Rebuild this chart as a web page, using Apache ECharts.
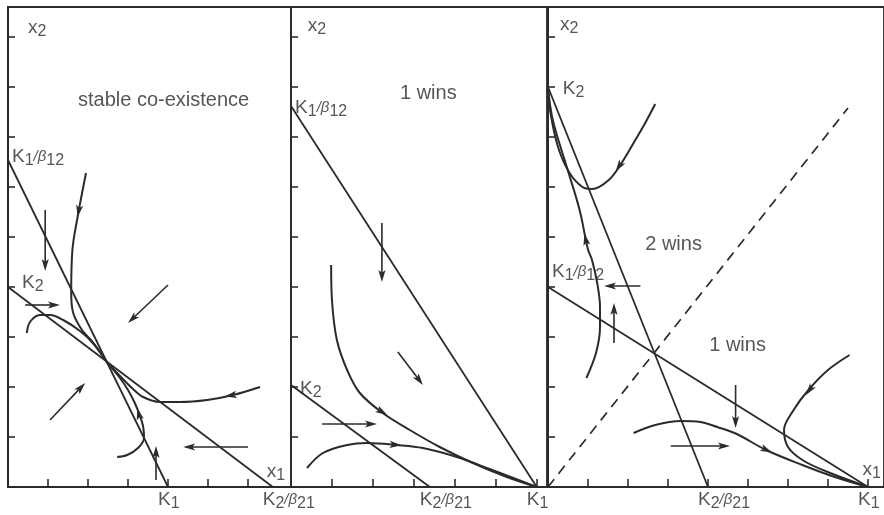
<!DOCTYPE html>
<html>
<head>
<meta charset="utf-8">
<script src="https://cdn.jsdelivr.net/npm/echarts@6/dist/echarts.min.js"></script>
<style>
  html, body { margin: 0; padding: 0; background: #fff; }
  #chart { width: 884px; height: 515px; }
</style>
</head>
<body>
<div id="chart"></div>
<script>
// Phase planes of the Lotka–Volterra competition model (x1 across, x2 up), three cases.
const INK = '#2b2b2b';
const FONT = '"Liberation Sans", Arial, Helvetica, sans-serif';

// ---- Panel 1: stable co-existence ----
const p1NullSpecies1 = [[0, 6.54], [4, 0]];       // K1/β12 down to K1
const p1NullSpecies2 = [[0, 4], [6.62, 0]];       // K2 down to K2/β21
const p1TrajFromTop = [[1.95, 6.28], [1.74, 5.4], [1.61, 4.74], [1.58, 3.88], [1.63, 3.48], [1.85, 3.14], [2.12, 2.9], [2.46, 2.51]];
const p1TrajFromLeft = [[0.47, 3.08], [0.55, 3.3], [0.8, 3.44], [1.05, 3.44], [1.38, 3.34], [1.8, 3.12], [2.12, 2.88], [2.46, 2.51]];
const p1TrajFromRight = [[6.3, 2.0], [5.63, 1.84], [4.98, 1.74], [4.3, 1.7], [3.8, 1.7], [3.38, 1.8], [3.1, 1.98], [2.8, 2.22], [2.46, 2.51]];
const p1TrajFromBelow = [[2.73, 0.6], [2.98, 0.64], [3.25, 0.78], [3.4, 0.98], [3.38, 1.2], [3.3, 1.42], [3.17, 1.68], [3.0, 1.94], [2.78, 2.2], [2.46, 2.51]];
// free direction arrows: [fromX, fromY, toX, toY]
const p1Arrows = [[0.93, 5.54, 0.93, 4.32], [0.43, 3.64, 1.3, 3.64], [4.0, 4.04, 3.0, 3.28], [1.05, 1.34, 1.93, 2.08], [3.7, 0.14, 3.7, 0.82], [6.0, 0.8, 4.38, 0.8]];
// arrowheads sitting on the trajectories: [behindX, behindY, tipX, tipY]
const p1Heads = [[1.79, 5.62, 1.74, 5.4], [5.7, 1.85, 5.42, 1.81], [3.29, 1.4, 3.23, 1.58]];
const p1Notes = [[0.5, 9.18, 'x_2'], [0.1, 6.6, 'K_1/β_12'], [0.35, 4.08, 'K_2'], [1.75, 7.74, 'stable co-existence'], [6.47, 0.3, 'x_1']];
const p1TickLabels = [[4, 'K_1'], [6.62, 'K_2/β_21']];

// ---- Panel 2: species 1 wins ----
const p2NullSpecies1 = [[0, 7.62], [6, 0]];
const p2NullSpecies2 = [[0, 2.04], [3.39, 0]];
const p2TrajUpper = [[0.98, 4.44], [1.0, 3.74], [1.12, 2.94], [1.37, 2.34], [1.68, 1.88], [2.24, 1.48], [2.9, 1.14], [3.63, 0.8], [4.44, 0.48], [5.27, 0.2], [6, 0]];
const p2TrajLower = [[0.39, 0.38], [0.78, 0.68], [1.37, 0.84], [1.85, 0.88], [2.59, 0.84], [3.22, 0.78], [4.05, 0.6], [4.85, 0.36], [6, 0]];
const p2Arrows = [[0.76, 1.26, 2.1, 1.26], [2.61, 2.7, 3.22, 2.04], [2.22, 5.28, 2.22, 4.1]];
const p2Heads = [[2.1, 1.56, 2.35, 1.44], [2.45, 0.85, 2.7, 0.835]];
const p2Notes = [[0.41, 9.22, 'x_2'], [0.1, 7.58, 'K_1/β_12'], [0.22, 1.96, 'K_2'], [2.66, 7.88, '1 wins']];
const p2TickLabels = [[3.39, 'K_2/β_21'], [6, 'K_1']];

// ---- Panel 3: unstable equilibrium, 1 wins or 2 wins ----
const p3NullSpecies1 = [[0, 4], [8, 0]];
const p3NullSpecies2 = [[0, 8], [4, 0]];
const p3Separatrix = [[0, 0], [7.5, 7.58]];
const p3TrajUpperU = [[2.68, 7.66], [2.43, 7.28], [2.14, 6.88], [1.84, 6.48], [1.52, 6.14], [1.1, 5.96], [0.86, 6.0], [0.54, 6.28], [0.25, 6.8], [0.05, 7.54], [0, 8]];
const p3TrajRising = [[0.96, 2.18], [1.2, 2.68], [1.3, 3.2], [1.3, 3.6], [1.23, 4.08], [1.1, 4.54], [1.0, 4.75], [0.79, 5.54], [0.47, 6.4], [0.12, 7.34], [0, 8]];
const p3TrajRightHook = [[7.54, 2.64], [7.0, 2.34], [6.51, 1.94], [6.14, 1.54], [5.9, 1.14], [6.0, 0.8], [6.36, 0.54], [6.93, 0.32], [8, 0]];
const p3TrajLow = [[2.14, 1.08], [2.68, 1.24], [3.32, 1.32], [3.81, 1.3], [4.23, 1.2], [4.72, 1.06], [5.45, 0.74], [6.36, 0.44], [7.17, 0.2], [8, 0]];
const p3Arrows = [[1.65, 2.88, 1.65, 3.68], [2.31, 4.02, 1.4, 4.02], [4.69, 2.04, 4.69, 1.18], [3.07, 0.82, 4.55, 0.82]];
const p3Heads = [[1.9, 6.56, 1.69, 6.31], [0.97, 4.85, 0.91, 5.07], [6.7, 2.12, 6.45, 1.84], [5.35, 0.78, 5.6, 0.69]];
const p3Notes = [[0.3, 9.24, 'x_2'], [0.37, 7.96, 'K_2'], [0.1, 4.3, 'K_1/β_12'], [2.43, 4.86, '2 wins'], [4.03, 2.84, '1 wins'], [7.86, 0.34, 'x_1']];
const p3TickLabels = [[4, 'K_2/β_21'], [8, 'K_1']];

const TICKS_Y = [1, 2, 3, 4, 5, 6, 7, 8, 9];

// Subscripts and the "/β" part are set as rich-text tokens.
function toRich(s) {
  return s.replace(/\/β/g, '{b|/β}').replace(/_(\d+)/g, '{s|$1}');
}
const RICH = {
  s: { fontSize: 16, fontFamily: FONT, color: INK, padding: [8, 0, 0, 0] },
  b: { fontSize: 15, fontFamily: FONT, color: INK, fontStyle: 'italic' }
};
// symbols with subscripts are set a little smaller than the region captions
const noteSize = t => (t.indexOf('_') >= 0 ? 19 : 20);

const panels = [
  { left: 8, width: 283, xMax: 7.075, xTicks: [1, 2, 3, 4, 5, 6],
    nulls: [p1NullSpecies1, p1NullSpecies2], dashed: null,
    trajs: [p1TrajFromTop, p1TrajFromLeft, p1TrajFromRight, p1TrajFromBelow],
    arrows: p1Arrows, heads: p1Heads, notes: p1Notes, tickLabels: p1TickLabels },
  { left: 291, width: 256, xMax: 6.25, xTicks: [1, 2, 3, 4, 5, 6],
    nulls: [p2NullSpecies1, p2NullSpecies2], dashed: null,
    trajs: [p2TrajUpper, p2TrajLower],
    arrows: p2Arrows, heads: p2Heads, notes: p2Notes, tickLabels: p2TickLabels },
  { left: 548, width: 342, xMax: 8.4, xTicks: [1, 2, 3, 4, 5, 6, 7, 8],
    nulls: [p3NullSpecies1, p3NullSpecies2], dashed: p3Separatrix,
    trajs: [p3TrajUpperU, p3TrajRising, p3TrajRightHook, p3TrajLow],
    arrows: p3Arrows, heads: p3Heads, notes: p3Notes, tickLabels: p3TickLabels }
];

function arrowRenderer(headOnly) {
  return function (params, api) {
    const a = api.coord([api.value(0), api.value(1)]);
    const b = api.coord([api.value(2), api.value(3)]);
    const dx = b[0] - a[0], dy = b[1] - a[1];
    const L = Math.hypot(dx, dy) || 1;
    const ux = dx / L, uy = dy / L, nx = -uy, ny = ux;
    const len = 12, half = 3.6, notch = 2.8;
    const bx = b[0] - ux * len, by = b[1] - uy * len;
    const children = [];
    if (!headOnly) {
      children.push({ type: 'line', shape: { x1: a[0], y1: a[1], x2: b[0] - ux * 4, y2: b[1] - uy * 4 },
        style: { stroke: INK, lineWidth: 1.6 } });
    }
    children.push({ type: 'polygon', shape: { points: [
      [b[0], b[1]],
      [bx + nx * half, by + ny * half],
      [b[0] - ux * (len - notch), b[1] - uy * (len - notch)],
      [bx - nx * half, by - ny * half]
    ] }, style: { fill: INK } });
    return { type: 'group', children };
  };
}

const grid = [], xAxis = [], yAxis = [], series = [];
panels.forEach((p, i) => {
  grid.push({ left: p.left, top: 7, width: p.width, height: 480, show: true,
    borderColor: INK, borderWidth: 1.8, backgroundColor: 'transparent' });
  xAxis.push({ gridIndex: i, type: 'value', min: 0, max: p.xMax, interval: 1,
    axisLine: { show: true, lineStyle: { color: INK, width: 2 } },
    axisTick: { show: true, inside: true, length: 8, customValues: p.xTicks, lineStyle: { color: INK, width: 1.6 } },
    axisLabel: { show: false }, splitLine: { show: false } });
  yAxis.push({ gridIndex: i, type: 'value', min: 0, max: 9.6, interval: 1,
    axisLine: { show: true, lineStyle: { color: INK, width: 2 } },
    axisTick: { show: true, inside: true, length: 7, customValues: TICKS_Y, lineStyle: { color: INK, width: 1.6 } },
    axisLabel: { show: false }, splitLine: { show: false } });

  const base = { xAxisIndex: i, yAxisIndex: i, silent: true };
  p.nulls.forEach(d => series.push(Object.assign({ type: 'line', data: d, showSymbol: false,
    lineStyle: { color: INK, width: 1.8 } }, base)));
  if (p.dashed) {
    series.push(Object.assign({ type: 'line', data: p.dashed, showSymbol: false,
      lineStyle: { color: INK, width: 1.7, type: [10, 7] } }, base));
  }
  p.trajs.forEach(d => series.push(Object.assign({ type: 'line', data: d, showSymbol: false, smooth: 0.35,
    lineStyle: { color: INK, width: 2 } }, base)));
  series.push(Object.assign({ type: 'custom', data: p.arrows, encode: { x: [0, 2], y: [1, 3] },
    renderItem: arrowRenderer(false) }, base));
  series.push(Object.assign({ type: 'custom', data: p.heads, encode: { x: [0, 2], y: [1, 3] },
    renderItem: arrowRenderer(true) }, base));
  // text inside the plane, anchored at its left-middle
  series.push(Object.assign({ type: 'scatter', symbolSize: 0,
    data: p.notes.map(n => ({ value: [n[0], n[1]], name: n[2], label: { fontSize: noteSize(n[2]) } })),
    label: { show: true, position: 'inside', align: 'left', verticalAlign: 'middle',
      formatter: q => toRich(q.name), color: INK, fontFamily: FONT, rich: RICH } }, base));
  // labels under the x axis
  series.push(Object.assign({ type: 'scatter', symbolSize: 0,
    data: p.tickLabels.map(n => ({ value: [n[0], 0], name: n[1] })),
    label: { show: true, position: 'inside', align: 'left', verticalAlign: 'top', offset: [-10, 1],
      formatter: q => toRich(q.name), color: INK, fontSize: 19, fontFamily: FONT, rich: RICH } }, base));
});

const chart = echarts.init(document.getElementById('chart'), null, { renderer: 'canvas' });
chart.setOption({ animation: false, backgroundColor: '#fff', grid, xAxis, yAxis, series });
</script>
</body>
</html>
